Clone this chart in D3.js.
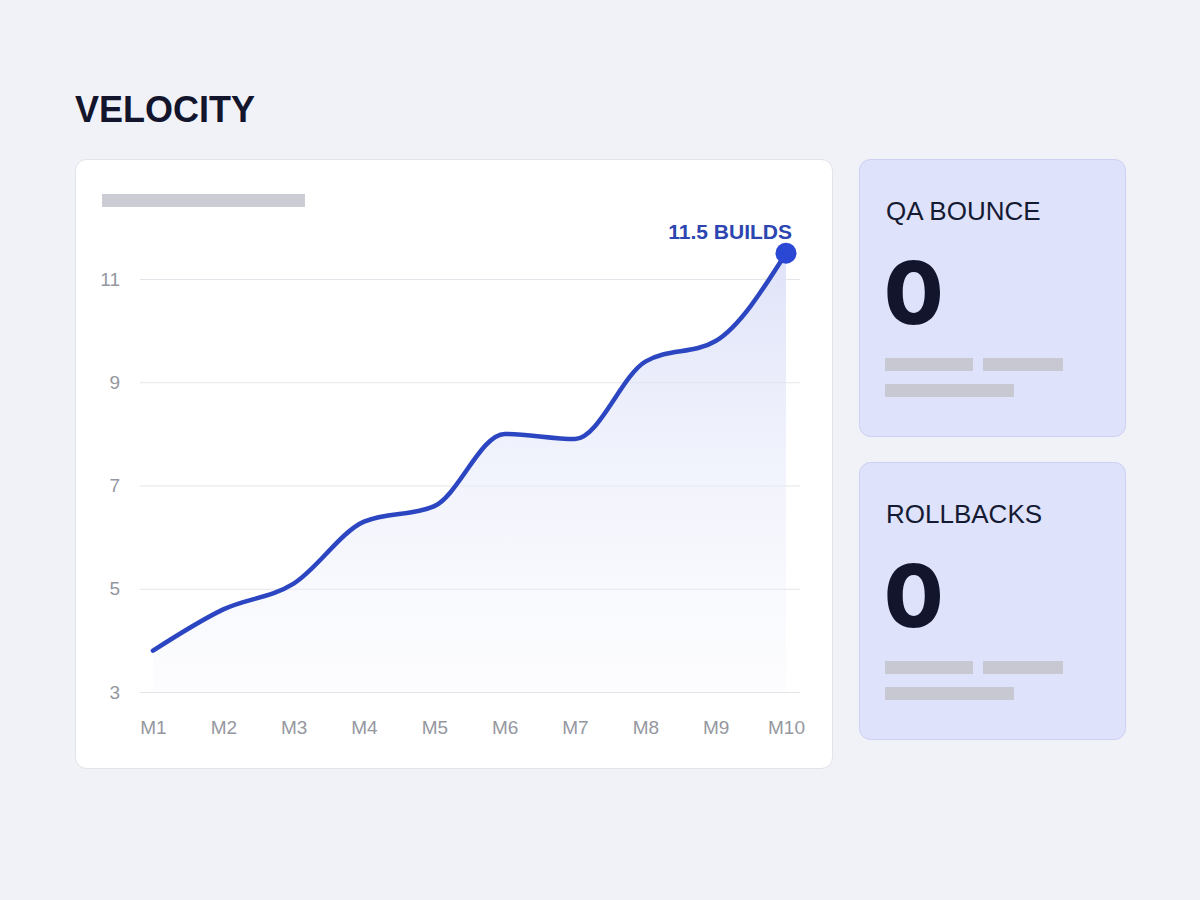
<!DOCTYPE html>
<html>
<head>
<meta charset="utf-8">
<script src="https://cdn.jsdelivr.net/npm/d3@7"></script>
<style>
    body { margin: 0; background: #f1f2f8; }
    svg { display: block; font-family: "Liberation Sans", Arial, sans-serif; }
</style>
</head>
<body>
<div id="chart"></div>
<script>
// chart data
const months = ['M1', 'M2', 'M3', 'M4', 'M5', 'M6', 'M7', 'M8', 'M9', 'M10'];
const velocity = [3.8, 4.6, 5.1, 6.3, 6.6, 8.0, 7.9, 9.4, 9.8, 11.5];
const yTicks = [3, 5, 7, 9, 11];
const unitLabel = 'BUILDS';

// side cards
const cardTitles = ['QA BOUNCE', 'ROLLBACKS'];
const cardValues = [0, 0];

const width = 1200, height = 900;

const svg = d3.select('#chart').append('svg')
    .attr('width', width)
    .attr('height', height);

svg.append('rect')
    .attr('width', width)
    .attr('height', height)
    .attr('fill', '#f1f2f8');

// title
svg.append('text')
    .attr('x', 75)
    .attr('y', 122)
    .attr('font-size', 36)
    .attr('font-weight', 700)
    .attr('fill', '#12152b')
    .text('VELOCITY');

// main card
svg.append('rect')
    .attr('x', 75.5).attr('y', 159.5)
    .attr('width', 757).attr('height', 609)
    .attr('rx', 11)
    .attr('fill', '#ffffff')
    .attr('stroke', '#e1e3eb');

// placeholder header bar
svg.append('rect')
    .attr('x', 102).attr('y', 194)
    .attr('width', 203).attr('height', 13)
    .attr('fill', '#cbccd4');

// scales
const x = d3.scalePoint(months, [153, 786]);
const y = d3.scaleLinear([3, 11], [692, 279]);

// y axis with gridlines
const yAxis = svg.append('g')
    .attr('transform', 'translate(140,0)')
    .call(d3.axisLeft(y).tickValues(yTicks).tickSize(-660).tickPadding(20));
yAxis.select('.domain').remove();
yAxis.selectAll('line').attr('stroke', '#e4e5eb');
yAxis.selectAll('text')
    .attr('font-size', 19)
    .attr('font-family', '"Liberation Sans", Arial, sans-serif')
    .attr('fill', '#95979f');

// x axis labels
const xAxis = svg.append('g')
    .attr('transform', 'translate(0,692)')
    .call(d3.axisBottom(x).tickSize(0).tickPadding(29));
xAxis.select('.domain').remove();
xAxis.selectAll('text')
    .attr('font-size', 19)
    .attr('font-family', '"Liberation Sans", Arial, sans-serif')
    .attr('fill', '#95979f');

// area gradient
const grad = svg.append('defs').append('linearGradient')
    .attr('id', 'areaFill')
    .attr('x1', 0).attr('y1', 0).attr('x2', 0).attr('y2', 1);
grad.append('stop').attr('offset', '0%').attr('stop-color', '#dce0f8').attr('stop-opacity', 0.9);
grad.append('stop').attr('offset', '100%').attr('stop-color', '#eef0fb').attr('stop-opacity', 0.15);

const points = months.map((m, i) => [m, velocity[i]]);

const area = d3.area()
    .x(d => x(d[0]))
    .y0(y(3))
    .y1(d => y(d[1]))
    .curve(d3.curveMonotoneX);

const line = d3.line()
    .x(d => x(d[0]))
    .y(d => y(d[1]))
    .curve(d3.curveMonotoneX);

svg.append('path')
    .datum(points)
    .attr('d', area)
    .attr('fill', 'url(#areaFill)');

svg.append('path')
    .datum(points)
    .attr('d', line)
    .attr('fill', 'none')
    .attr('stroke', '#2c46c2')
    .attr('stroke-width', 4.5)
    .attr('stroke-linecap', 'round');

// end point + label
const last = points[points.length - 1];
svg.append('circle')
    .attr('cx', x(last[0]))
    .attr('cy', y(last[1]))
    .attr('r', 10.5)
    .attr('fill', '#2a48d4');

svg.append('text')
    .attr('x', x(last[0]) + 6)
    .attr('y', y(last[1]) - 14)
    .attr('text-anchor', 'end')
    .attr('font-size', 21)
    .attr('font-weight', 700)
    .attr('fill', '#2c45b0')
    .text(`${last[1]} ${unitLabel}`);

// stat cards
const cardTops = [159, 462];
cardTitles.forEach((title, i) => {
    const g = svg.append('g').attr('transform', `translate(859,${cardTops[i]})`);
    g.append('rect')
        .attr('x', 0.5).attr('y', 0.5)
        .attr('width', 266).attr('height', 277)
        .attr('rx', 11)
        .attr('fill', '#dfe2fb')
        .attr('stroke', '#cbd0f1');
    g.append('text')
        .attr('x', 27).attr('y', 61)
        .attr('font-size', 26)
        .attr('fill', '#151a33')
        .text(title);
    g.append('text')
        .attr('x', 25).attr('y', 165)
        .attr('font-size', 86)
        .attr('font-weight', 800)
        .attr('font-family', 'Inter, "Liberation Sans", sans-serif')
        .attr('fill', '#12152b')
        .text(cardValues[i]);
    // placeholder text lines
    const bars = [[26, 199, 88], [124, 199, 80], [26, 225, 129]];
    g.selectAll('rect.bar')
        .data(bars)
        .join('rect')
        .classed('bar', true)
        .attr('x', d => d[0])
        .attr('y', d => d[1])
        .attr('width', d => d[2])
        .attr('height', 13)
        .attr('fill', '#c7c8d1');
});
</script>
</body>
</html>
